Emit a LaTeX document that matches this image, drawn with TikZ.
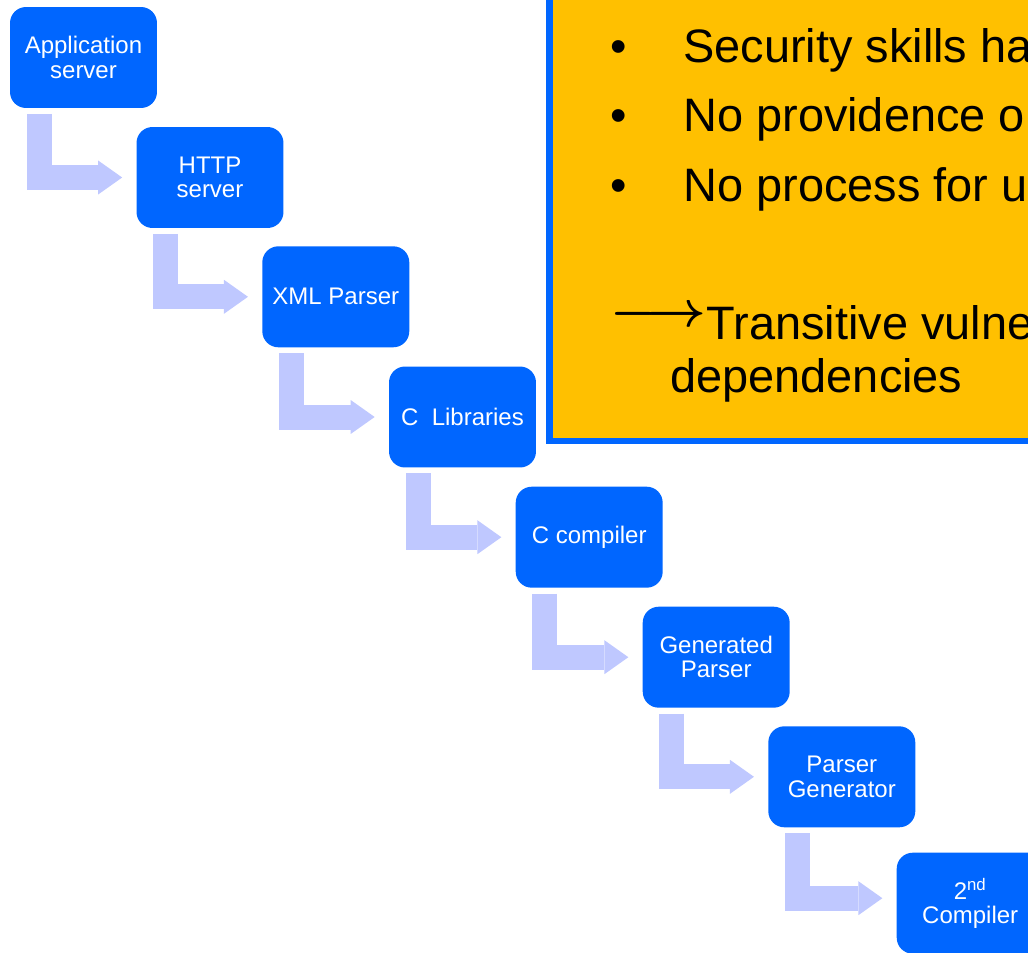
\documentclass[tikz,border=0pt]{standalone}
\usepackage{fontspec}
\setmainfont{Liberation Sans}
\usepackage{graphicx}
\usepackage{bm}
\usetikzlibrary{arrows.meta, positioning}

\definecolor{boxblue}{RGB}{0,102,255}
\definecolor{flowarrow}{RGB}{191,200,255}
\definecolor{notebg}{RGB}{255,192,0}

\tikzset{
	stage/.style={fill=boxblue, draw=none, rounded corners=0.32cm,
		minimum width=2.94cm, minimum height=2.02cm, inner sep=0pt,
		align=center, text=white, font=\fontsize{13.66}{13.8}\selectfont},
	bent/.style={draw=flowarrow, line width=0.5cm,
		-{Triangle[length=0.48cm, width=0.68cm, line width=0pt]},
		shorten >=0.28cm},
	bigtext/.style={font=\fontsize{26.7}{30}\selectfont, anchor=base west, inner sep=0pt}
}

\begin{document}
\begin{tikzpicture}[x=0.02cm, y=-0.02cm]
			\useasboundingbox (0,0) rectangle (1028,953);
			
			% note box
			\draw[draw=boxblue, line width=0.13cm, fill=notebg] (549.5,-20) rectangle (1060,440.8);
			\node[bigtext] (dot1) at (610,62.7) {•};
			\node[bigtext] (dot2) at (610,131.7) {•};
			\node[bigtext] (dot3) at (610,201) {•};
			\node[bigtext] (skills) at (683,62.7) {Security skills ha};
			\node[bigtext] (providence) at (683,131.7) {No providence o};
			\node[bigtext] (process) at (683,201) {No process for u};
			\node[bigtext] (transitive) at (610,339.3) {\raisebox{0.28em}{\scalebox{1.19}[1.15]{$\bm{\longrightarrow}$}}Transitive vulne};
			\node[bigtext] (deps) at (670,392.7) {dependencies};
			
			% chain of stages
			\node[stage] (app) at (83.5,57.5) {Application\\server};
			\node[stage] (http) at (210,177.5) {HTTP\\server};
			\node[stage] (xml) at (335.8,296.8) {XML Parser};
			\node[stage] (clib) at (462.5,417) {C\ \ Libraries};
			\node[stage] (ccomp) at (589.2,537.2) {C compiler};
			\node[stage] (genparser) at (716.2,657.2) {Generated\\Parser};
			\node[stage] (parsergen) at (841.8,776.8) {Parser\\Generator};
			\node[stage] (comp2) at (970.2,903.2) {2\textsuperscript{nd}\\Compiler};
			
			\draw[bent] ([xshift=0.59cm, yshift=-0.11cm]app.south west) |- (http.west);
			\draw[bent] ([xshift=0.59cm, yshift=-0.11cm]http.south west) |- (xml.west);
			\draw[bent] ([xshift=0.59cm, yshift=-0.11cm]xml.south west) |- (clib.west);
			\draw[bent] ([xshift=0.59cm, yshift=-0.11cm]clib.south west) |- (ccomp.west);
			\draw[bent] ([xshift=0.59cm, yshift=-0.11cm]ccomp.south west) |- (genparser.west);
			\draw[bent] ([xshift=0.59cm, yshift=-0.11cm]genparser.south west) |- (parsergen.west);
			\draw[bent] ([xshift=0.59cm, yshift=-0.11cm]parsergen.south west) |- ([yshift=0.1cm]comp2.west);
		\end{tikzpicture}
\end{document}
